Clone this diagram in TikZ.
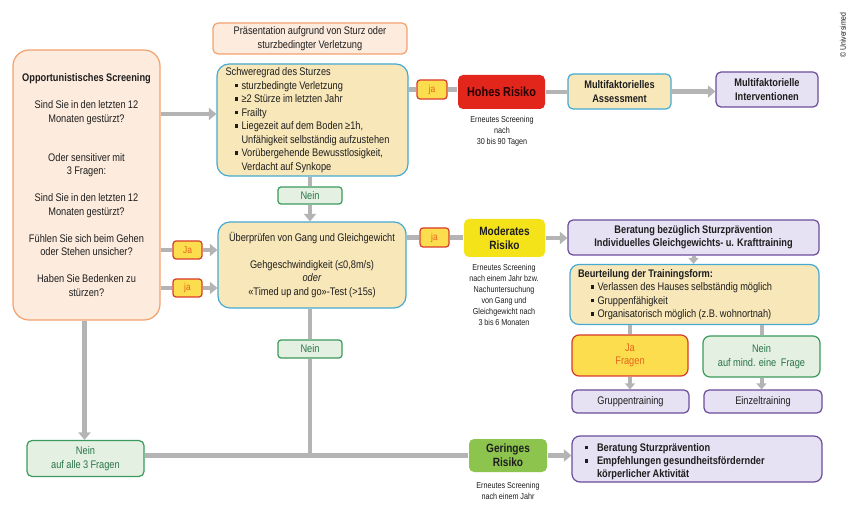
\documentclass[tikz,border=0pt]{standalone}
\usepackage{fontspec}
\setmainfont{Liberation Sans}[FakeStretch=0.84, WordSpace=0.9]
\usetikzlibrary{arrows.meta}
\definecolor{txt}{HTML}{1E1E1E}
\definecolor{peachF}{HTML}{FDEBDD}
\definecolor{peachD}{HTML}{F2A26E}
\definecolor{beigeF}{HTML}{F8E7B9}
\definecolor{blueD}{HTML}{45A9D2}
\definecolor{greenF}{HTML}{E3F0E2}
\definecolor{greenD}{HTML}{3C9B5C}
\definecolor{greenT}{HTML}{2A7448}
\definecolor{lavF}{HTML}{E6E1F3}
\definecolor{lavD}{HTML}{6B4C9A}
\definecolor{jaF}{HTML}{FCDD4D}
\definecolor{jaD}{HTML}{D93B2B}
\definecolor{jaT}{HTML}{E8641E}
\definecolor{redF}{HTML}{E2261C}
\definecolor{yelF}{HTML}{F5E31A}
\definecolor{grnF}{HTML}{8DC44E}
\definecolor{grayC}{HTML}{B4B4B4}
\newcommand\bul{\raisebox{1.8pt}{\rule{3.4pt}{3.4pt}}}
\newcommand\rr{\rightskip=0pt plus 1fil\spaceskip=0pt\xspaceskip=0pt\relax}
\newcommand\bitem[3]{\par\leftskip=#1\rr\hangindent=#2\hangafter=1\noindent\makebox[#2][l]{\bul}#3}
\newcommand\brk{\hfil\break}
\tikzset{
  base/.style={rounded corners=5pt, line width=1.2pt, align=center, inner sep=0pt,
    font=\fontsize{11}{13.5}\selectfont, text=txt},
  peach/.style={base, fill=peachF, draw=peachD},
  beige/.style={base, fill=beigeF, draw=blueD},
  lav/.style={base, fill=lavF, draw=lavD},
  grn/.style={base, fill=greenF, draw=greenD, text=greenT, rounded corners=3pt},
  jabox/.style={base, fill=jaF, draw=jaD, text=jaT, rounded corners=3pt, font=\fontsize{10}{11}\selectfont},
  risk/.style={base, draw=none, font=\fontsize{12}{14}\selectfont\bfseries},
  note/.style={align=center, inner sep=0pt, text=txt, font=\fontsize{8.6}{11}\selectfont},
  con/.style={draw=grayC, line width=4.5pt},
  arr/.style={con, -{Triangle[width=12pt,length=7.5pt]}},
  scon/.style={draw=grayC, line width=4pt},
  sarr/.style={scon, -{Triangle[width=10pt,length=6pt]}}
}
\begin{document}
\begin{tikzpicture}[x=1pt,y=-1pt]
\useasboundingbox[fill=white] (0,0) rectangle (854,518);

% nodes
\node[peach, minimum width=194pt, minimum height=31pt] (pres) at (310,38.5)
  {Präsentation aufgrund von Sturz oder\\sturzbedingter Verletzung};
\node[peach, rounded corners=16pt, minimum width=147pt, minimum height=270pt] (screen) at (86.5,185)
  {\textbf{Opportunistisches Screening}\\[13.5pt]
   Sind Sie in den letzten 12\\Monaten gestürzt?\\[25.5pt]
   Oder sensitiver mit\\3 Fragen:\\[13.5pt]
   Sind Sie in den letzten 12\\Monaten gestürzt?\\[13.5pt]
   Fühlen Sie sich beim Gehen\\oder Stehen unsicher?\\[13.5pt]
   Haben Sie Bedenken zu\\stürzen?};
\node[beige, rounded corners=12pt, minimum width=191pt, minimum height=112pt, text width=174pt, align=left] (schwer) at (312.5,120)
  {\rr Schweregrad des Sturzes
   \bitem{9pt}{7pt}{sturzbedingte Verletzung}
   \bitem{9pt}{7pt}{≥2 Stürze im letzten Jahr}
   \bitem{9pt}{7pt}{Frailty}
   \bitem{9pt}{7pt}{Liegezeit auf dem Boden ≥1h,\brk Unfähigkeit selbständig aufzustehen}
   \bitem{9pt}{7pt}{Vorübergehende Bewusstlosigkeit,\brk Verdacht auf Synkope}\par};
\node[grn, minimum width=64pt, minimum height=17pt] (nein1) at (310,195.5) {Nein};
\node[beige, rounded corners=12pt, minimum width=188pt, minimum height=86pt] (ueber) at (312,265)
  {Überprüfen von Gang und Gleichgewicht\\[13.5pt]
   Gehgeschwindigkeit (≤0,8m/s)\\ \textit{oder}\\ «Timed up and go»-Test (>15s)};
\node[jabox, minimum width=29pt, minimum height=18pt] (ja1) at (187.5,250) {Ja};
\node[jabox, minimum width=29pt, minimum height=18pt] (ja2) at (187.5,288) {ja};
\node[grn, minimum width=64pt, minimum height=18pt] (nein2) at (310,349) {Nein};
\node[grn, rounded corners=5pt, minimum width=117pt, minimum height=36pt] (neinall) at (85.5,458.5)
  {Nein\\auf alle 3 Fragen};
\node[risk, fill=grnF, minimum width=78pt, minimum height=33pt] (gering) at (508,455.5) {Geringes\\Risiko};
\node[note] (gnote) at (508,491) {Erneutes Screening\\nach einem Jahr};
\node[lav, rounded corners=8pt, minimum width=250pt, minimum height=46pt, text width=230pt, align=left,
      font=\fontsize{11}{13.2}\selectfont\bfseries] (bottomR) at (697,459)
  {\bitem{3pt}{12pt}{Beratung Sturzprävention}
   \bitem{3pt}{12pt}{Empfehlungen gesundheitsfördernder\brk körperlicher Aktivität}\par};

\node[jabox, minimum width=30pt, minimum height=19pt] (jatop) at (432,89.5) {ja};
\node[risk, fill=redF, text=black!85!red, font=\fontsize{13}{14}\selectfont\bfseries, minimum width=87pt, minimum height=34pt] (hohes) at (501.5,92) {Hohes Risiko};
\node[note] (hnote) at (502,131) {Erneutes Screening\\nach\\30 bis 90 Tagen};
\node[beige, font=\fontsize{11}{13.5}\selectfont\bfseries, minimum width=103pt, minimum height=35pt] (mfa) at (619.5,91.5)
  {Multifaktorielles\\Assessment};
\node[lav, font=\fontsize{11}{13.5}\selectfont\bfseries, minimum width=102pt, minimum height=35pt] (mfi) at (767,89.5)
  {Multifaktorielle\\Interventionen};

\node[jabox, minimum width=29pt, minimum height=19pt] (jamid) at (434.5,237.5) {ja};
\node[risk, fill=yelF, minimum width=81pt, minimum height=38pt] (moder) at (504.5,238) {Moderates\\Risiko};
\node[note] (mnote) at (504,295) {Erneutes Screening\\nach einem Jahr bzw.\\Nachuntersuchung\\von Gang und\\Gleichgewicht nach\\3 bis 6 Monaten};
\node[lav, font=\fontsize{11}{13.2}\selectfont\bfseries, minimum width=251pt, minimum height=35pt] (berat) at (693.5,237.5)
  {Beratung bezüglich Sturzprävention\\Individuelles Gleichgewichts- u. Krafttraining};
\node[beige, rounded corners=9pt, minimum width=249pt, minimum height=60pt, text width=233pt, align=left] (beurt) at (694.5,294.5)
  {\rr\textbf{Beurteilung der Trainingsform:}
   \bitem{13pt}{6.5pt}{Verlassen des Hauses selbständig möglich}
   \bitem{13pt}{6.5pt}{Gruppenfähigkeit}
   \bitem{13pt}{6.5pt}{Organisatorisch möglich (z.B. wohnortnah)}\par};
\node[jabox, rounded corners=7pt, font=\fontsize{11}{13.5}\selectfont, minimum width=116pt, minimum height=41pt] (jafr) at (630,355.5)
  {Ja\\Fragen};
\node[grn, rounded corners=7pt, minimum width=117pt, minimum height=41pt] (neinfr) at (761.5,356.5)
  {Nein\\auf mind. eine\ \ Frage};
\node[lav, minimum width=117pt, minimum height=23pt] (grupp) at (630.5,401.5) {Gruppentraining};
\node[lav, minimum width=118pt, minimum height=23pt] (einzel) at (763,401.5) {Einzeltraining};

\node[rotate=90, inner sep=0pt, text=txt, font=\fontsize{8.2}{9}\selectfont] (copy) at (843,35) {© Universimed};

% connectors
\draw[arr] ([yshift=6pt]screen.east |- schwer.west) -- ([yshift=6pt]schwer.west);
\draw[con] (schwer.east |- jatop) -- (jatop.west);
\draw[con] (jatop.east) -- (hohes.west |- jatop.east);
\draw[con] (hohes.east) -- (mfa.west |- hohes.east);
\draw[arr] (mfa.east) -- (mfi.west |- mfa.east);
\draw[con] (schwer.south -| nein1) -- (nein1.north);
\draw[arr] (nein1.south) -- (ueber.north -| nein1.south);
\draw[con] (screen.east |- ja1) -- (ja1.west);
\draw[arr] (ja1.east) -- (ueber.west |- ja1.east);
\draw[con] (screen.east |- ja2) -- (ja2.west);
\draw[arr] (ja2.east) -- (ueber.west |- ja2.east);
\draw[con] (ueber.east |- jamid) -- (jamid.west);
\draw[con] (jamid.east) -- (moder.west |- jamid.east);
\draw[arr] (moder.east) -- (berat.west |- moder.east);
\draw[sarr] (berat.south) -- (beurt.north -| berat.south);
\draw[scon] (beurt.south -| jafr) -- (jafr.north);
\draw[scon] (beurt.south -| neinfr) -- (neinfr.north);
\draw[sarr] (jafr.south) -- (grupp.north -| jafr.south);
\draw[sarr] (neinfr.south) -- (einzel.north -| neinfr.south);
\draw[con] (ueber.south -| nein2) -- (nein2.north);
\draw[con] (nein2.south) -- (nein2 |- gering);
\draw[arr] ([xshift=-2pt]screen.south) -- ([xshift=-2pt]neinall.north -| screen.south);
\draw[con] (neinall.east |- gering) -- (gering.west);
\draw[arr] (gering.east) -- (bottomR.west |- gering.east);
\end{tikzpicture}
\end{document}
